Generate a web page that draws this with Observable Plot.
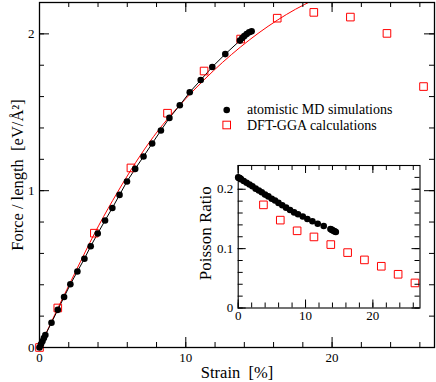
<!DOCTYPE html>
<html><head><meta charset="utf-8">
<script src="https://cdn.jsdelivr.net/npm/d3@7"></script>
<script src="https://cdn.jsdelivr.net/npm/@observablehq/plot@0.6"></script>
<style>
body{margin:0;background:#fff;}
#wrap{position:relative;width:436px;height:382px;overflow:hidden;}
#wrap svg, #wrap svg text { font-family: "Liberation Serif", "DejaVu Serif", serif !important; }
</style></head><body><div id="wrap"></div>
<script>
// ---- data ----
const mdStrain = [0, 0.1, 0.2, 0.3, 0.4, 0.82, 1.25, 1.68, 2.11, 2.59, 3.07, 3.50, 3.98, 4.48, 4.98, 5.47, 5.98, 6.54, 7.11, 7.70, 8.30, 8.88, 9.59, 10.27, 11.02, 11.81, 12.70, 13.70, 13.86, 14.00, 14.16, 14.33, 14.50];
const mdForce = [0, 0.02, 0.04, 0.06, 0.08, 0.158, 0.24, 0.322, 0.403, 0.485, 0.566, 0.646, 0.727, 0.810, 0.890, 0.973, 1.059, 1.139, 1.218, 1.301, 1.384, 1.464, 1.545, 1.628, 1.706, 1.789, 1.871, 1.957, 1.974, 1.986, 1.999, 2.010, 2.016];
const mdPoisson = [0.220, 0.219, 0.219, 0.218, 0.217, 0.214, 0.211, 0.208, 0.205, 0.201, 0.198, 0.195, 0.191, 0.188, 0.184, 0.181, 0.177, 0.173, 0.169, 0.165, 0.161, 0.158, 0.154, 0.150, 0.146, 0.142, 0.138, 0.133, 0.132, 0.131, 0.130, 0.129, 0.128];

const dftStrain = [0, 1.25, 3.75, 6.25, 8.75, 11.25, 13.75, 16.25, 18.75, 21.25, 23.75, 26.25];
const dftForce = [0, 0.252, 0.729, 1.145, 1.494, 1.763, 1.967, 2.100, 2.137, 2.107, 2.003, 1.664];
const dftPoissonStrain = [3.75, 6.25, 8.75, 11.25, 13.75, 16.25, 18.75, 21.25, 23.75, 26.25];
const dftPoisson = [0.1737, 0.148, 0.130, 0.1197, 0.1068, 0.0933, 0.081, 0.0703, 0.0568, 0.0422];

const fitStrain = [0, 1.25, 2.5, 3.75, 5, 6.25, 7.5, 8.75, 10, 11.25, 12.5, 13.75, 15, 16.25, 17.5, 18.75];
const fitForce = [0, 0.25, 0.49, 0.725, 0.937, 1.132, 1.307, 1.457, 1.587, 1.707, 1.817, 1.917, 2.007, 2.087, 2.157, 2.217];

const xMajor = [0, 10, 20];
const xMinor = [0, 2, 4, 6, 8, 10, 12, 14, 16, 18, 20, 22, 24, 26];
const yMajor = [0, 1, 2];
const yMinor = [0, 0.2, 0.4, 0.6, 0.8, 1, 1.2, 1.4, 1.6, 1.8, 2];
const insetYMajor = [0, 0.1, 0.2];
const insetYMinor = [0, 0.02, 0.04, 0.06, 0.08, 0.1, 0.12, 0.14, 0.16, 0.18, 0.2, 0.22];

const legendLabels = ["atomistic MD simulations", "DFT-GGA calculations"];
const xTitle = "Strain\u00a0 [%]";
const yTitle = "Force / length\u00a0 [eV/Å²]";
const insetYTitle = "Poisson Ratio";

// ---- tables ----
const md = mdStrain.map((s, i) => ({s, f: mdForce[i], p: mdPoisson[i]}));
const dft = dftStrain.map((s, i) => ({s, f: dftForce[i]}));
const dftP = dftPoissonStrain.map((s, i) => ({s, p: dftPoisson[i]}));
const fit = fitStrain.map((s, i) => ({s, f: fitForce[i]}));

const FONT = "'Liberation Serif', 'DejaVu Serif', serif";
const wrap = document.getElementById("wrap");

function frameTicks(xMaj, xMin, yMaj, yMin, fw, fh, big, small) {
  return [
    Plot.tickX(xMin, {x: d => d, insetTop: fh - small, stroke: "black"}),
    Plot.tickX(xMaj, {x: d => d, insetTop: fh - big, stroke: "black"}),
    Plot.tickX(xMin, {x: d => d, insetBottom: fh - small, stroke: "black"}),
    Plot.tickX(xMaj, {x: d => d, insetBottom: fh - big, stroke: "black"}),
    Plot.tickY(yMin, {y: d => d, insetRight: fw - small, stroke: "black"}),
    Plot.tickY(yMaj, {y: d => d, insetRight: fw - big, stroke: "black"}),
    Plot.tickY(yMin, {y: d => d, insetLeft: fw - small, stroke: "black"}),
    Plot.tickY(yMaj, {y: d => d, insetLeft: fw - big, stroke: "black"})
  ];
}

// ---- main plot ----
const W = 436, H = 382, mL = 39, mR = 2, mT = 2, mB = 35;
const fw = W - mL - mR, fh = H - mT - mB;
const main = Plot.plot({
  width: W, height: H,
  marginLeft: mL, marginRight: mR, marginTop: mT, marginBottom: mB,
  style: {fontFamily: FONT, fontSize: "13px", background: "white", color: "black"},
  x: {domain: [0, 27]},
  y: {domain: [0, 2.2]},
  marks: [
    Plot.line(fit, {x: "s", y: "f", stroke: "#ff0000", strokeWidth: 1, curve: "natural", clip: true}),
    Plot.line(md, {x: "s", y: "f", stroke: "black", strokeWidth: 1}),
    Plot.dot(dft, {x: "s", y: "f", symbol: "square", r: 4.3, stroke: "#ff0000", strokeWidth: 1, fill: "none"}),
    Plot.dot(md, {x: "s", y: "f", r: 3.3, fill: "black", stroke: "none"}),
    ...frameTicks(xMajor, xMinor, yMajor, yMinor, fw, fh, 10, 5),
    Plot.frame({stroke: "black", strokeWidth: 1.3}),
    Plot.axisX({ticks: xMajor, tickSize: 0, tickPadding: 5, tickFormat: d => String(d), label: null, fontSize: 13}),
    Plot.axisY({ticks: yMajor, tickSize: 0, tickPadding: 5, tickFormat: d => String(d), label: null, fontSize: 13}),
    Plot.text([xTitle], {text: d => d, frameAnchor: "bottom", lineAnchor: "middle", textAnchor: "middle", dy: 25, fontSize: 16.5}),
    Plot.text([yTitle], {text: d => d, frameAnchor: "left", lineAnchor: "middle", textAnchor: "middle", rotate: -90, dx: -22, fontSize: 16.5})
  ]
});
wrap.appendChild(main);

// ---- inset ----
const iW = 240, iH = 180, iL = 47.7, iR = 10.5, iT = 15, iB = 22.5;
const ifw = iW - iL - iR, ifh = iH - iT - iB;
const inset = Plot.plot({
  width: iW, height: iH,
  marginLeft: iL, marginRight: iR, marginTop: iT, marginBottom: iB,
  style: {fontFamily: FONT, fontSize: "13px", background: "transparent", color: "black", position: "absolute", left: "190px", top: "150px"},
  x: {domain: [0, 27]},
  y: {domain: [0, 0.24]},
  marks: [
    Plot.dot(dftP, {x: "s", y: "p", symbol: "square", r: 4.3, stroke: "#ff0000", strokeWidth: 1, fill: "none"}),
    Plot.dot(md, {x: "s", y: "p", r: 3.3, fill: "black", stroke: "none"}),
    ...frameTicks(xMajor, xMinor, insetYMajor, insetYMinor, ifw, ifh, 8, 5),
    Plot.frame({stroke: "black", strokeWidth: 1.1}),
    Plot.axisX({ticks: xMajor, tickSize: 0, tickPadding: 3, tickFormat: d => String(d), label: null, fontSize: 13}),
    Plot.axisY({ticks: insetYMajor, tickSize: 0, tickPadding: 5, tickFormat: d => String(d), label: null, fontSize: 13}),
    Plot.text([insetYTitle], {text: d => d, frameAnchor: "left", lineAnchor: "middle", textAnchor: "middle", rotate: -90, dx: -32.5, dy: -3.5, fontSize: 17})
  ]
});
wrap.appendChild(inset);

// ---- legend ----
const leg = d3.select(wrap).append("svg")
  .attr("width", 210).attr("height", 40)
  .style("position", "absolute").style("left", "215px").style("top", "98px")
  .style("font-size", "14px");
leg.append("circle").attr("cx", 11.7).attr("cy", 12).attr("r", 3.3).attr("fill", "black");
leg.append("rect").attr("x", 11.7 - 3.8).attr("y", 27 - 3.8).attr("width", 7.6).attr("height", 7.6)
  .attr("fill", "none").attr("stroke", "#ff0000").attr("stroke-width", 1);
leg.selectAll("text").data(legendLabels).join("text")
  .attr("x", 32).attr("y", (d, i) => 16 + i * 15.5).attr("fill", "black").text(d => d);
</script></body></html>
